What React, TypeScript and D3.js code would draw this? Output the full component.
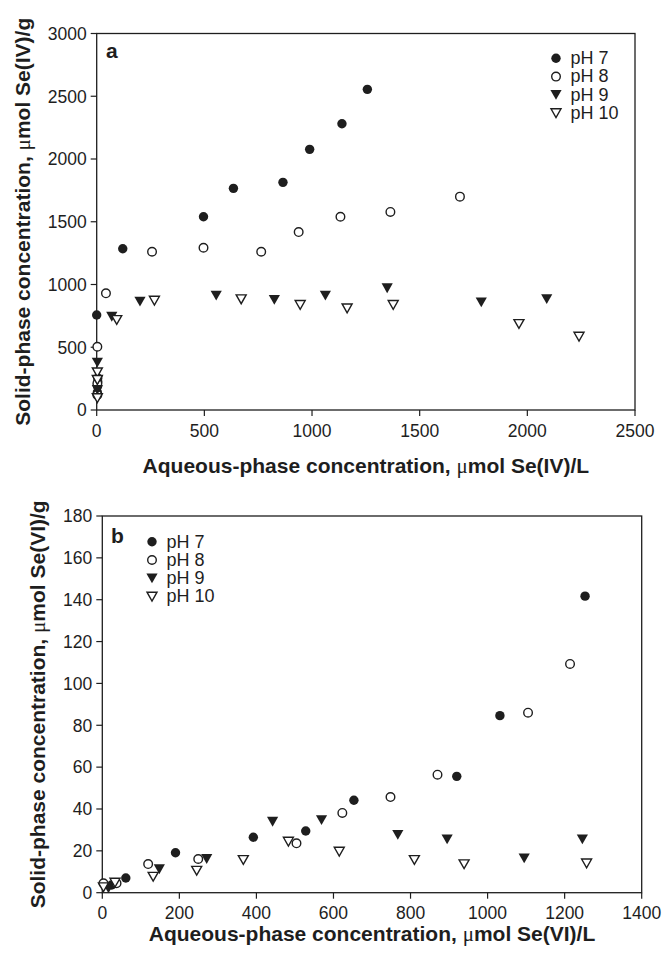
import React from "react";
import * as d3 from "d3";

type Pt = [number, number];

// Panel a: Se(IV)
const seIV_pH7: Pt[] = [[0, 757], [5, 255], [5, 225], [4, 190], [3, 140], [121, 1285], [496, 1540], [635, 1766], [865, 1814], [989, 2077], [1139, 2281], [1257, 2555]];
const seIV_pH8: Pt[] = [[3, 504], [3, 210], [3, 120], [43, 930], [257, 1261], [496, 1293], [764, 1261], [938, 1418], [1132, 1540], [1364, 1578], [1687, 1700]];
const seIV_pH9: Pt[] = [[3, 377], [3, 235], [3, 160], [70, 743], [201, 863], [555, 911], [825, 877], [1062, 911], [1349, 970], [1786, 858], [2090, 884]];
const seIV_pH10: Pt[] = [[3, 300], [3, 240], [3, 95], [93, 717], [268, 871], [671, 882], [945, 837], [1163, 810], [1377, 837], [1961, 685], [2240, 584]];

// Panel b: Se(VI)
const seVI_pH7: Pt[] = [[24, 3.7], [61, 7], [190, 19.1], [392, 26.5], [528, 29.5], [653, 44.2], [920, 55.6], [1032, 84.6], [1253, 141.7]];
const seVI_pH8: Pt[] = [[3, 4.5], [37, 4.5], [119, 13.7], [249, 16.1], [504, 23.6], [623, 38.1], [748, 45.7], [870, 56.4], [1105, 86], [1214, 109.3]];
const seVI_pH9: Pt[] = [[16, 2.1], [148, 11.2], [271, 16.1], [442, 33.9], [569, 34.7], [767, 27.6], [895, 25.5], [1095, 16.4], [1246, 25.5]];
const seVI_pH10: Pt[] = [[3, 2.6], [33, 4.8], [132, 7.6], [245, 10.5], [366, 15.6], [483, 24.4], [615, 19.6], [810, 15.6], [939, 13.6], [1257, 14.0]];

const seriesLabels = ["pH 7", "pH 8", "pH 9", "pH 10"];
const markerKinds = ["filledCircle", "openCircle", "filledTri", "openTri"];

const xTicksA = [0, 500, 1000, 1500, 2000, 2500];
const yTicksA = [0, 500, 1000, 1500, 2000, 2500, 3000];
const xTicksB = [0, 200, 400, 600, 800, 1000, 1200, 1400];
const yTicksB = [0, 20, 40, 60, 80, 100, 120, 140, 160, 180];

const INK = "#1e1e1e";
const FONT = "Liberation Sans, Arial, Helvetica, sans-serif";

function Marker({ kind, x, y }: { kind: string; x: number; y: number }) {
  if (kind === "filledCircle") return <circle cx={x} cy={y} r={4.7} fill={INK} />;
  if (kind === "openCircle") return <circle cx={x} cy={y} r={4.3} fill="#fff" stroke={INK} strokeWidth={1.4} />;
  const w = kind === "filledTri" ? 5.6 : 5.0;
  const h = kind === "filledTri" ? 4.9 : 4.4;
  const d = `M${x - w},${y - h}L${x + w},${y - h}L${x},${y + h}Z`;
  if (kind === "filledTri") return <path d={d} fill={INK} />;
  return <path d={d} fill="#fff" stroke={INK} strokeWidth={1.4} strokeLinejoin="miter" />;
}

interface PanelProps {
  left: number; right: number; top: number; bottom: number;
  xMax: number; yMax: number; xTicks: number[]; yTicks: number[];
  series: Pt[][]; letter: string; letterX: number; letterY: number;
  legendX: number; legendY: number; xTitle: string; yTitle: string;
  xTitleY: number; yTitleX: number;
}

function Panel(p: PanelProps) {
  const x = d3.scaleLinear().domain([0, p.xMax]).range([p.left, p.right]);
  const y = d3.scaleLinear().domain([0, p.yMax]).range([p.bottom, p.top]);
  const tl = 6;
  const cx = (p.left + p.right) / 2;
  const cy = (p.top + p.bottom) / 2;
  const [xa, xb] = p.xTitle.split("μ");
  const [ya, yb] = p.yTitle.split("μ");
  return (
    <g fontFamily={FONT} fill={INK}>
      <rect x={p.left} y={p.top} width={p.right - p.left} height={p.bottom - p.top} fill="none" stroke={INK} strokeWidth={1.3} />
      {p.xTicks.map((t) => (
        <g key={"x" + t}>
          <line x1={x(t)} x2={x(t)} y1={p.bottom} y2={p.bottom + tl} stroke={INK} strokeWidth={1.2} />
          <text x={x(t)} y={p.bottom + 26.5} textAnchor="middle" fontSize={17.5}>{t}</text>
        </g>
      ))}
      {p.yTicks.map((t) => (
        <g key={"y" + t}>
          <line x1={p.left - tl} x2={p.left} y1={y(t)} y2={y(t)} stroke={INK} strokeWidth={1.2} />
          <text x={p.left - tl - 4} y={y(t)} dy="0.36em" textAnchor="end" fontSize={17.5}>{t}</text>
        </g>
      ))}
      {p.series.map((s, i) =>
        s.map((pt, j) => <Marker key={i + "-" + j} kind={markerKinds[i]} x={x(pt[0])} y={y(pt[1])} />)
      )}
      <text x={p.letterX} y={p.letterY} fontSize={21} fontWeight="bold">{p.letter}</text>
      {seriesLabels.map((lab, i) => (
        <g key={lab}>
          <Marker kind={markerKinds[i]} x={p.legendX} y={p.legendY + i * 18.3} />
          <text x={p.legendX + 14.5} y={p.legendY + i * 18.3 + 5.8} fontSize={18}>{lab}</text>
        </g>
      ))}
      <text x={cx} y={p.xTitleY} textAnchor="middle" fontSize={21} fontWeight="bold">
        {xa}<tspan fontWeight="normal" fontFamily="Liberation Serif, serif">μ</tspan>{xb}
      </text>
      <text transform={`translate(${p.yTitleX},${cy}) rotate(-90)`} textAnchor="middle" fontSize={21} fontWeight="bold">
        {ya}<tspan fontWeight="normal" fontFamily="Liberation Serif, serif">μ</tspan>{yb}
      </text>
    </g>
  );
}

export default function App() {
  return (
    <div style={{ position: "absolute", left: 0, top: 0 }}>
      <svg width={663} height={954} style={{ display: "block", background: "#fff" }}>
        <Panel
          left={96.7} right={635} top={33.5} bottom={410}
          xMax={2500} yMax={3000} xTicks={xTicksA} yTicks={yTicksA}
          series={[seIV_pH7, seIV_pH8, seIV_pH9, seIV_pH10]}
          letter="a" letterX={106} letterY={57.5}
          legendX={556} legendY={58.3}
          xTitle="Aqueous-phase concentration, μmol Se(IV)/L"
          yTitle="Solid-phase concentration, μmol Se(IV)/g"
          xTitleY={473} yTitleX={29.5}
        />
        <Panel
          left={102.3} right={641.7} top={516} bottom={892.7}
          xMax={1400} yMax={180} xTicks={xTicksB} yTicks={yTicksB}
          series={[seVI_pH7, seVI_pH8, seVI_pH9, seVI_pH10]}
          letter="b" letterX={111} letterY={543.3}
          legendX={152} legendY={541.7}
          xTitle="Aqueous-phase concentration, μmol Se(VI)/L"
          yTitle="Solid-phase concentration, μmol Se(VI)/g"
          xTitleY={941} yTitleX={45}
        />
      </svg>
    </div>
  );
}
